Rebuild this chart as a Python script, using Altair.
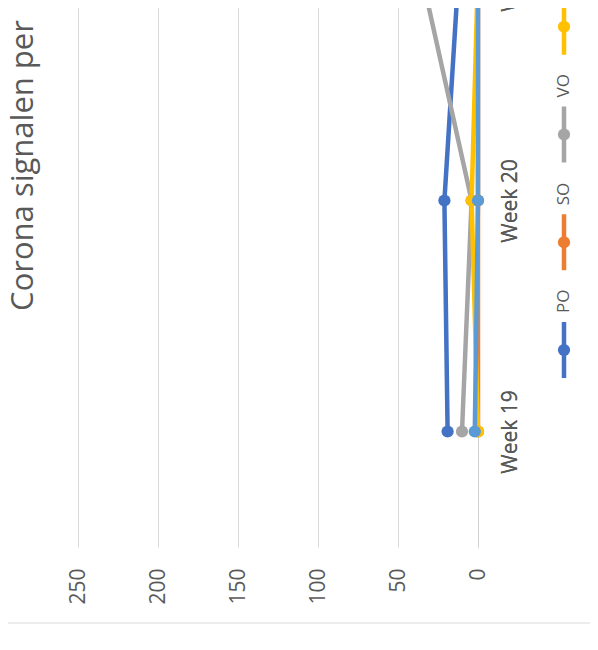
import altair as alt
import pandas as pd

weeks = ["Week 19", "Week 20", "Week 21"]
series = ["PO", "SO", "VO", "MBO", "HO"]
colors = ["#4472C4", "#ED7D31", "#A5A5A5", "#FFC000", "#5B9BD5"]
po = [19, 21, 12]
so = [0, 0, 0]
vo = [10, 4, 36]
mbo = [0, 4, 0]
ho = [2, 0, 0]
value_ticks = [0, 50, 100, 150, 200, 250]
title_text = "Corona signalen per"

rows = []
for name, vals in zip(series, [po, so, vo, mbo, ho]):
    for i, (w, v) in enumerate(zip(weeks, vals)):
        rows.append({"series": name, "week": w, "idx": i, "value": v})
df = pd.DataFrame(rows)
leg = pd.DataFrame({"series": series})
border = pd.DataFrame({"k": [0]})

FONT = "Open Sans"
TXT = "#595959"

color = alt.Color("series:N", scale=alt.Scale(domain=series, range=colors), legend=None)
xenc = alt.X(
    "value:Q",
    scale=alt.Scale(domain=[0, 250], reverse=True, nice=False),
    axis=alt.Axis(
        values=value_ticks, title=None, labelAngle=270, labelAlign="right",
        labelBaseline="middle", labelPadding=21, ticks=False, tickSize=0,
        domain=False, grid=True, gridColor="#D9D9D9", gridWidth=1,
        labelFontSize=21, labelFont=FONT, labelColor=TXT,
    ),
)
yenc = alt.Y(
    "week:O",
    scale=alt.Scale(type="point", domain=weeks[::-1], padding=0.5),
    axis=alt.Axis(
        orient="right", title=None, labelAngle=270, labelAlign="center",
        labelBaseline="top", labelPadding=21, ticks=False, tickSize=0,
        domain=True, domainColor="#D0D0D0", domainWidth=1, grid=False,
        labelFontSize=21, labelFont=FONT, labelColor=TXT,
    ),
)

base = alt.Chart(df)
lines = base.mark_line(strokeWidth=4.5).encode(
    x=xenc, y=yenc, color=color, order=alt.Order("idx:Q"), detail="series:N"
)
points = base.mark_circle(size=150, opacity=1).encode(x=xenc, y=yenc, color=color)

ly = alt.Y(
    "series:N",
    scale=alt.Scale(type="point", domain=series, range=[496, 65], padding=0),
    axis=None,
)
lbase = alt.Chart(leg)
leg_line = lbase.mark_tick(orient="vertical", thickness=4.5, size=56, opacity=1).encode(
    x=alt.value(486), y=ly, color=color
)
leg_dot = lbase.mark_circle(size=150, opacity=1).encode(x=alt.value(486), y=ly, color=color)
leg_txt = lbase.mark_text(
    angle=270, align="left", baseline="middle", dx=37, fontSize=17, font=FONT, color=TXT
).encode(x=alt.value(486), y=ly, text="series:N")

frame = alt.Chart(border).mark_rule(color="#D9D9D9", strokeWidth=1).encode(
    x=alt.value(-70), x2=alt.value(520), y=alt.value(769)
)

chart = (
    alt.layer(lines, points, leg_line, leg_dot, leg_txt, frame)
    .resolve_scale(y="independent")
    .properties(
        width=400,
        height=693,
        autosize=alt.AutoSizeParams(type="none"),
        padding={"left": 70, "top": -154, "right": 112, "bottom": 95},
        title=alt.TitleParams(
            text=title_text, orient="left", anchor="middle", frame="group",
            dx=35, offset=-32, fontSize=31, font=FONT, color=TXT, fontWeight="normal",
        ),
    )
    .configure_view(stroke=None)
)

chart.save("out.html", embed_options={"renderer": "svg", "actions": False})
